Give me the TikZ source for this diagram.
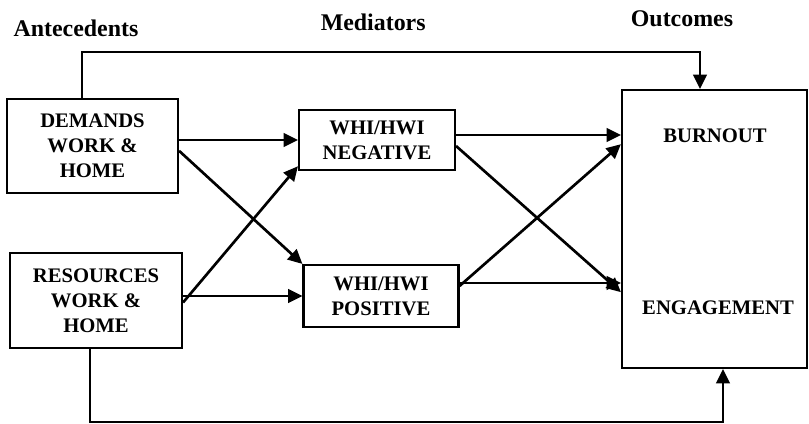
\documentclass[tikz,border=0pt]{standalone}
\usepackage{fontspec}
\setmainfont{Liberation Serif}
\usetikzlibrary{arrows.meta}

\begin{document}
\begin{tikzpicture}[
  box/.style={draw, line width=1.5pt, align=center, inner sep=0pt, font=\fontsize{14.7}{17.8}\selectfont\bfseries},
  arr/.style={line width=1.9pt, -{Triangle[length=0.36cm,width=0.34cm]}},
  head/.style={font=\fontsize{17}{20}\selectfont\bfseries}]
\useasboundingbox (0,0) rectangle (20.225,10.6);
% headings
\node[head] (hant) at (1.9,9.9) {Antecedents};
\node[head] (hmed) at (9.33,10.03) {Mediators};
\node[head] (hout) at (17.05,10.13) {Outcomes};
% boxes
\node[box, minimum width=4.275cm, minimum height=2.35cm] (dem) at (2.3125,6.95) {DEMANDS\\WORK \&\\HOME};
\node[box, minimum width=4.3cm, minimum height=2.375cm] (res) at (2.4,3.0875) {RESOURCES\\WORK \&\\HOME};
\node[box, minimum width=3.9cm, minimum height=1.5cm] (neg) at (9.425,7.1) {WHI/HWI\\NEGATIVE};
\node[box, minimum width=3.875cm, minimum height=1.55cm] (pos) at (9.525,3.2) {WHI/HWI\\POSITIVE};
\node[box, minimum width=4.625cm, minimum height=6.95cm] (out) at (17.8625,4.875) {};
\node[box, draw=none] (burn) at (17.875,7.2) {BURNOUT};
\node[box, draw=none] (eng) at (17.95,2.9) {ENGAGEMENT};
\coordinate (topbend) at (17.5,9.3);
\coordinate (botbend) at (18.075,0.05);
\coordinate (inB) at ([yshift=2.35cm]out.west);
\coordinate (inB2) at ([yshift=2.12cm]out.west);
\coordinate (inE) at ([yshift=-1.35cm]out.west);
\coordinate (inE2) at ([yshift=-1.58cm]out.west);
% antecedents to mediators
\draw[arr] (dem.east |- neg.west) -- (neg.west);
\draw[arr] ([yshift=-0.12cm]dem.east) -- (pos.north west);
\draw[arr] (res.east |- pos.west) -- (pos.west);
\draw[arr] ([yshift=-0.05cm]res.east) -- ([yshift=0.12cm]neg.south west);
% mediators to outcomes
\draw[arr] (neg.east |- inB) -- (inB);
\draw[arr] ([yshift=-0.15cm]neg.east) -- (inE2);
\draw[arr] (pos.east |- inE) -- (inE);
\draw[arr] ([yshift=0.25cm]pos.east) -- (inB2);
% direct paths
\draw[arr] ([xshift=-0.26cm]dem.north) |- (topbend) -- (topbend |- out.north);
\draw[arr] ([xshift=-0.15cm]res.south) |- (botbend) -- (botbend |- out.south);
\end{tikzpicture}
\end{document}
